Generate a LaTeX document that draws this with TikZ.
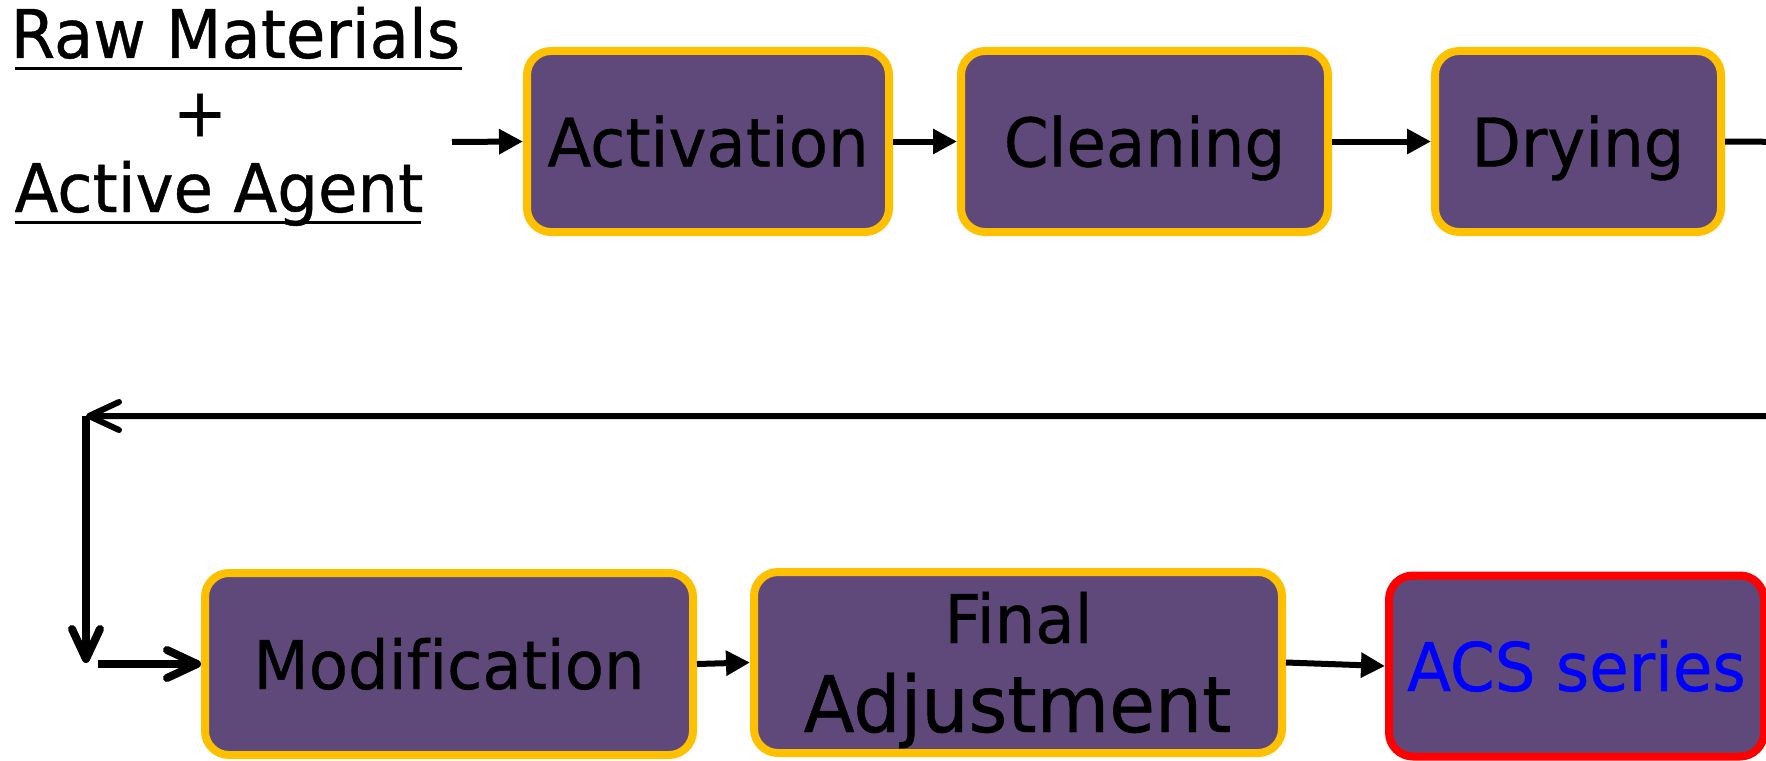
\documentclass[tikz,border=0pt]{standalone}
\usepackage{fontspec}
\setmainfont{DejaVu Sans}[FakeStretch=0.955,FakeBold=0.6,Ligatures=NoCommon]
\usetikzlibrary{arrows.meta}
\definecolor{boxfill}{HTML}{5F497A}
\definecolor{gold}{HTML}{FFC000}
\definecolor{acsred}{HTML}{FF0000}
\definecolor{acsblue}{HTML}{0000FF}
\newcommand{\myboxfont}{\fontsize{67.2}{80}\selectfont}
\newcommand{\myadjfont}{\fontsize{78}{92}\selectfont}
\begin{document}
\begin{tikzpicture}[x=1pt,y=-1pt,
  stepbox/.style={draw=gold, line width=8pt, fill=boxfill, rounded corners=24pt,
    minimum height=181pt, inner sep=0pt, text height=50pt, text depth=0pt,
    font=\myboxfont},
  txt/.style={inner sep=0pt, outer sep=0pt, font=\myboxfont},
  flow/.style={line width=6pt, -{Triangle[length=24pt,width=24pt]}},
  back/.style={-{Straight Barb[length=30pt,width=28pt,round]}},
  uline/.style={line width=3pt}]
\useasboundingbox (0,0) rectangle (1766,760);

% input text
\node[txt, anchor=base west] (raw) at (10.7,58) {Raw Materials};
\node[txt] (plus) at (200,115) {+};
\node[txt, anchor=base west] (agent) at (14.5,212) {Active Agent};
\draw[uline] ([xshift=4pt,yshift=-11pt]raw.base west) -- ([xshift=2pt,yshift=-11pt]raw.base east);
\draw[uline] ([xshift=0.5pt,yshift=-10pt]agent.base west) -- ([xshift=-2pt,yshift=-10pt]agent.base east);

% top row
\node[stepbox, minimum width=362pt] (act) at (708,141.5) {Activation};
\node[stepbox, minimum width=367pt] (clean) at (1144.5,141.5) {Cleaning};
\node[stepbox, minimum width=286pt] (dry) at (1578,141.5) {Drying};

% bottom row
\node[stepbox, minimum width=488pt, minimum height=182pt] (mod) at (449,664) {Modification};
\node[stepbox, minimum width=528pt] (fin) at (1018,662.5) {};
\node[txt, anchor=base] (finA) at (1018.5,643) {Final};
\node[txt, anchor=base, font=\myadjfont] (finB) at (1017.5,732) {Adjustment};
\node[stepbox, draw=acsred, text=acsblue, minimum width=375pt] (acs) at (1576.5,666) {ACS series};

% connectors
\coordinate (inS) at (452,142);
\coordinate (offR) at (1800,142);
\coordinate (offR2) at (1800,416);
\coordinate (corner) at (86,416);
\coordinate (down) at (86,663);
\coordinate (botS) at (98,664);

\draw[flow] (inS) -- (act.west);
\draw[flow] (act.east) -- (clean.west);
\draw[flow] (clean.east) -- (dry.west);
\draw[back, line width=6pt] (dry.east) -- (offR) -- (offR2) -- (corner);
\draw[back, line width=8pt] (corner) -- (down);
\draw[back, line width=8pt] (botS) -- (mod.west);
\draw[flow] (mod.east) -- (fin.west);
\draw[flow] (fin.east) -- (acs.west);
\end{tikzpicture}
\end{document}
